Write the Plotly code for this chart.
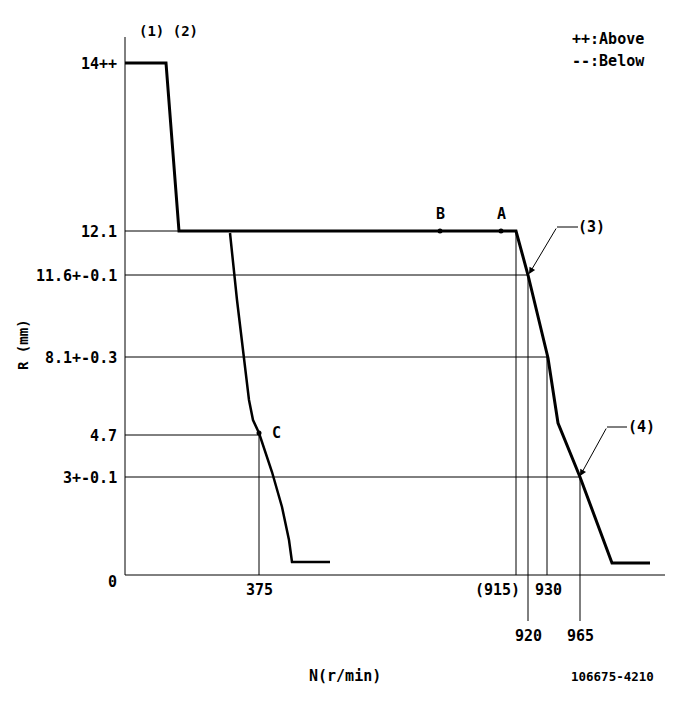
import plotly.graph_objects as go

# Schematic diagram coordinates (diagram units, non-linear scale as drawn)
# R axis levels
r_pos = [0, 98, 140, 218, 300, 344, 512]
r_labels = ["0", "3+-0.1", "4.7", "8.1+-0.3", "11.6+-0.1", "12.1", "14++"]

# N axis marks
n_pos = [134, 391, 403, 422, 455]
n_labels = ["375", "(915)", "920", "930", "965"]
n_label_row = [0, 0, 1, 0, 1]  # 0 = just below axis, 1 = lower row

# Main governor curve
main_x = [0, 41, 54, 391, 403, 423, 433, 455, 487, 525]
main_y = [512, 512, 344, 344, 300, 217, 152, 98, 12, 12]

# Idle curve
idle_x = [105, 112, 124, 128, 134, 147, 157, 164, 167, 205]
idle_y = [342, 275, 175, 155, 142, 103, 68, 35, 13, 13]

# Points
pt_names = ["B", "A", "C"]
pt_x = [315, 376, 134]
pt_y = [344, 344, 142]

# Reference lines: horizontal (y, x_end), vertical (x, y_start, y_end)
h_lines = [(344, 54), (300, 403), (218, 422), (140, 134), (98, 455)]
v_lines = [(134, 0, 140), (391, 0, 344), (403, -46, 300), (422, 0, 218), (455, -46, 98)]

FONT = "DejaVu Sans Mono, Liberation Mono, monospace"
fig = go.Figure()

def seg(xs, ys, w=1):
    fig.add_trace(go.Scatter(x=xs, y=ys, mode="lines",
                             line=dict(color="black", width=w),
                             hoverinfo="skip", showlegend=False))

# axes
seg([0, 0], [538, 0])
seg([0, 540], [0, 0])

for y, xe in h_lines:
    seg([0, xe], [y, y])
for x, y0, y1 in v_lines:
    seg([x, x], [y0, y1])

seg(main_x, main_y, 3)
seg(idle_x, idle_y, 2.5)

fig.add_trace(go.Scatter(x=pt_x, y=pt_y, mode="markers",
                         marker=dict(color="black", size=5),
                         hoverinfo="skip", showlegend=False))

# leader lines for (3) and (4)
seg([432, 453], [348, 348])
seg([482, 502], [148, 148])

ann = []
def txt(x, y, s, xa="center", size=15, angle=0):
    ann.append(dict(x=x, y=y, text="<b>%s</b>" % s, showarrow=False, xanchor=xa, yanchor="middle",
                    xref="x", yref="y", textangle=angle,
                    font=dict(family=FONT, size=size, color="black")))

for p, lab in zip(r_pos, r_labels):
    dy = -7 if lab == "0" else -1
    txt(-6, p + dy, lab, xa="right")

for p, lab, row in zip(n_pos, n_labels, n_label_row):
    dx = -19 if lab == "(915)" else (1 if lab == "930" else 0)
    txt(p + dx, -15 if row == 0 else -61, lab)

for n, x, y in zip(pt_names, pt_x, pt_y):
    if n == "C":
        txt(x + 17, y, n)
    else:
        txt(x, y + 17, n)

txt(466, 348, "(3)")
txt(516, 148, "(4)")
txt(43, 544, "(1) (2)", size=14)
txt(445, 536, "++:Above", xa="left")
txt(445, 514, "--:Below", xa="left")
txt(220, -101, "N(r/min)")
txt(487, -101, "106675-4210", size=12.5)
txt(-102, 230, "R (mm)", angle=-90, size=14)

# arrows
for (tx, ty, sx, sy) in [(404, 301, 432, 348), (455, 99, 482, 148)]:
    ann.append(dict(x=tx, y=ty, ax=sx, ay=sy, xref="x", yref="y", axref="x", ayref="y",
                    text="", showarrow=True, arrowhead=2, arrowsize=1.3, arrowwidth=1,
                    arrowcolor="black"))

fig.update_layout(
    width=677, height=697,
    margin=dict(l=0, r=0, t=0, b=0),
    paper_bgcolor="white", plot_bgcolor="white",
    xaxis=dict(range=[-117, 560], visible=False),
    yaxis=dict(range=[-130, 567], visible=False),
    annotations=ann,
)

fig.write_html("out.html")
